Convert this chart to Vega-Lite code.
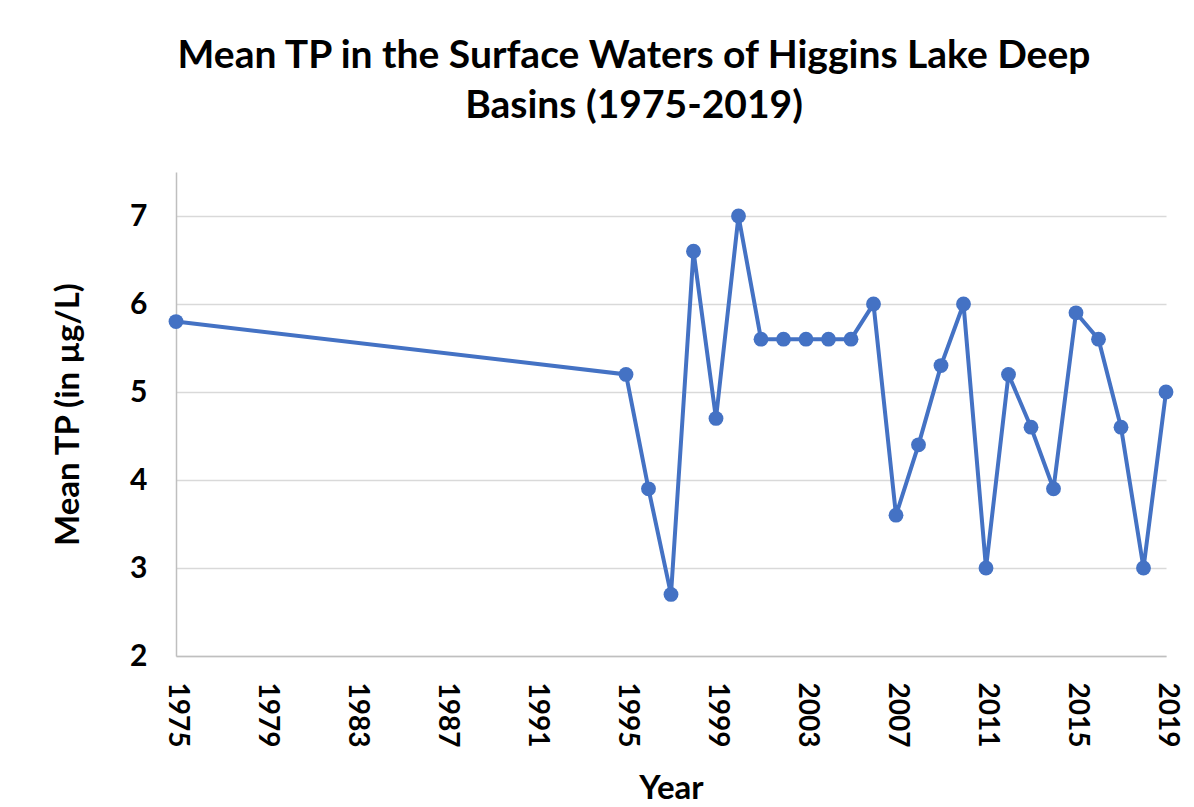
{
  "$schema": "https://vega.github.io/schema/vega-lite/v6.json",
  "autosize": {"type": "none"},
  "width": 990,
  "height": 484,
  "padding": {"left": 176, "top": 172, "right": 28, "bottom": 151},
  "background": "white",
  "config": {
    "font": "Lato",
    "view": {"stroke": null}
  },
  "title": {
    "text": ["Mean TP in the Surface Waters of Higgins Lake Deep", "Basins (1975-2019)"],
    "fontSize": 39,
    "fontWeight": "bold",
    "font": "Lato",
    "color": "#000000",
    "anchor": "middle",
    "dx": -37,
    "offset": 46,
    "lineHeight": 50
  },
  "data": {
    "values": [
      {"Year": 1975, "TP": 5.8},
      {"Year": 1995, "TP": 5.2},
      {"Year": 1996, "TP": 3.9},
      {"Year": 1997, "TP": 2.7},
      {"Year": 1998, "TP": 6.6},
      {"Year": 1999, "TP": 4.7},
      {"Year": 2000, "TP": 7.0},
      {"Year": 2001, "TP": 5.6},
      {"Year": 2002, "TP": 5.6},
      {"Year": 2003, "TP": 5.6},
      {"Year": 2004, "TP": 5.6},
      {"Year": 2005, "TP": 5.6},
      {"Year": 2006, "TP": 6.0},
      {"Year": 2007, "TP": 3.6},
      {"Year": 2008, "TP": 4.4},
      {"Year": 2009, "TP": 5.3},
      {"Year": 2010, "TP": 6.0},
      {"Year": 2011, "TP": 3.0},
      {"Year": 2012, "TP": 5.2},
      {"Year": 2013, "TP": 4.6},
      {"Year": 2014, "TP": 3.9},
      {"Year": 2015, "TP": 5.9},
      {"Year": 2016, "TP": 5.6},
      {"Year": 2017, "TP": 4.6},
      {"Year": 2018, "TP": 3.0},
      {"Year": 2019, "TP": 5.0}
    ]
  },
  "encoding": {
    "x": {
      "field": "Year",
      "type": "quantitative",
      "scale": {"domain": [1975, 2019], "nice": false, "zero": false},
      "axis": {
        "title": "Year",
        "values": [1975, 1979, 1983, 1987, 1991, 1995, 1999, 2003, 2007, 2011, 2015, 2019],
        "format": "d",
        "labelAngle": 90,
        "labelAlign": "left",
        "labelBaseline": "middle",
        "labelFontSize": 28,
        "labelFontWeight": "bold",
        "labelColor": "#000000",
        "labelPadding": 26,
        "labelFlush": false,
        "labelOverlap": false,
        "ticks": false,
        "grid": false,
        "domainColor": "#bfbfbf",
        "domainWidth": 1.5,
        "titleFontSize": 33,
        "titleFontWeight": "bold",
        "titleColor": "#000000",
        "titlePadding": 26
      }
    },
    "y": {
      "field": "TP",
      "type": "quantitative",
      "scale": {"domain": [2, 7.5], "nice": false, "zero": false},
      "axis": {
        "title": "Mean TP (in µg/L)",
        "values": [2, 3, 4, 5, 6, 7],
        "labelFontSize": 30,
        "labelFontWeight": "bold",
        "labelColor": "#000000",
        "labelPadding": 29,
        "ticks": false,
        "grid": true,
        "gridColor": "#d9d9d9",
        "gridWidth": 1.5,
        "domainColor": "#bfbfbf",
        "domainWidth": 1.5,
        "titleFontSize": 33,
        "titleFontWeight": "bold",
        "titleColor": "#000000",
        "titlePadding": 44
      }
    }
  },
  "layer": [
    {
      "mark": {"type": "line", "color": "#4472C4", "strokeWidth": 4}
    },
    {
      "mark": {"type": "point", "filled": true, "color": "#4472C4", "size": 220, "opacity": 1}
    }
  ]
}
